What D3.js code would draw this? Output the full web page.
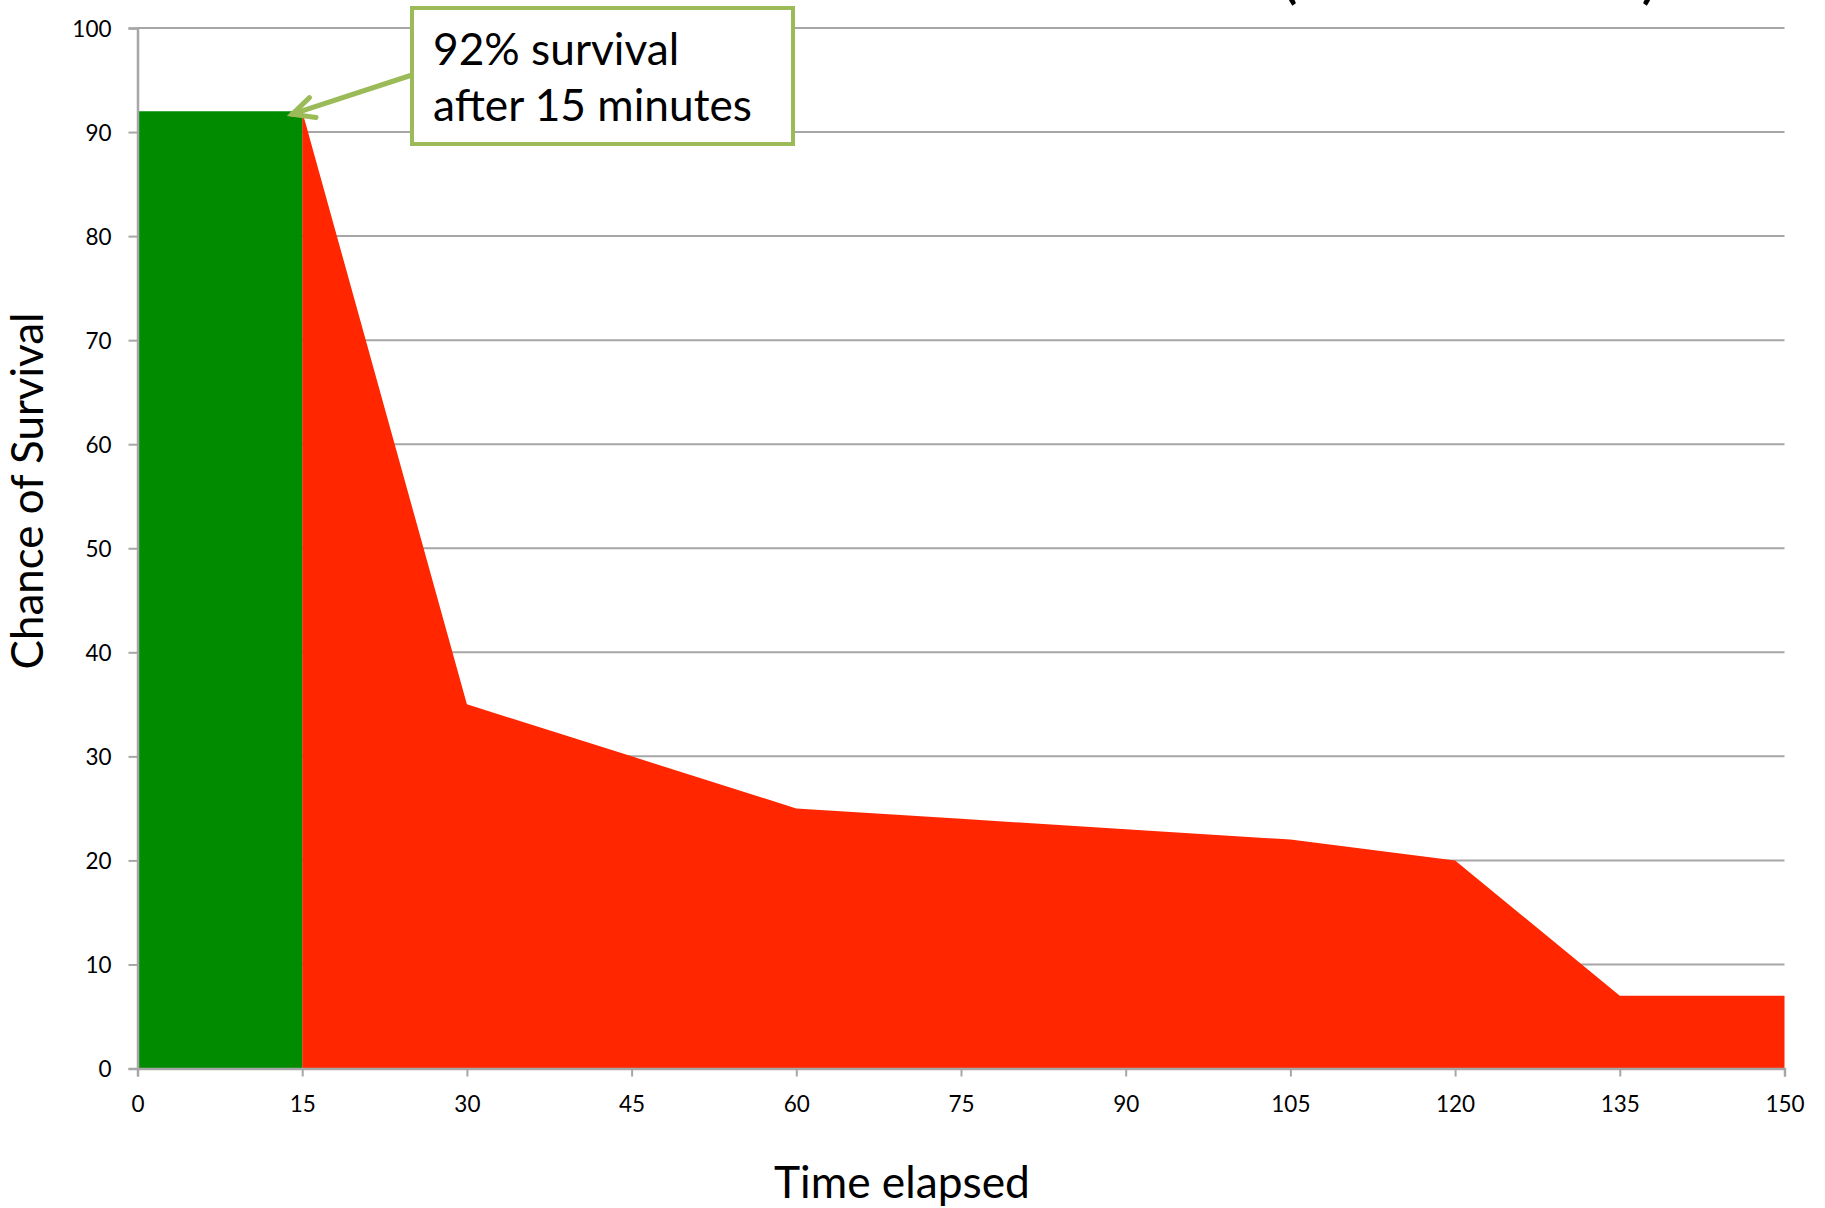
<!DOCTYPE html>
<html>
<head>
<meta charset="utf-8">
<script src="https://cdn.jsdelivr.net/npm/d3@7"></script>
<style>
  html, body { margin: 0; padding: 0; background: #fff; }
  svg { display: block; }
  text { font-family: Lato, "Open Sans", sans-serif; fill: #000; }
</style>
</head>
<body>
<svg id="chart" width="1825" height="1208"></svg>
<script>
// ---- data ----
const minutes  = [0, 15, 30, 45, 60, 75, 90, 105, 120, 135, 150];
const survival = [92, 92, 35, 30, 25, 24, 23, 22, 20, 7, 7];
const greenEnd = 15;             // green region 0..15 minutes
const xTicks = [0, 15, 30, 45, 60, 75, 90, 105, 120, 135, 150];
const yTicks = [0, 10, 20, 30, 40, 50, 60, 70, 80, 90, 100];
const xTitle = "Time elapsed";
const yTitle = "Chance of Survival";
const noteLines = ["92% survival", "after 15 minutes"];
const noteMinute = 15, noteValue = 92;

// ---- layout ----
const W = 1825, H = 1208;
const m = { left: 137.5, right: W - 1784.5, top: 28, bottom: H - 1068.5 };
const svg = d3.select("#chart");

const x = d3.scaleLinear().domain([0, 150]).range([m.left, W - m.right]);
const y = d3.scaleLinear().domain([0, 100]).range([H - m.bottom, m.top]);

const grid = "#A6A6A6";
const green = "#008B00";
const red = "#FF2600";
const noteGreen = "#9BBB59";

function fitText(sel, targetWidth, startSize) {
  sel.attr("font-size", startSize);
  const w = sel.node().getComputedTextLength();
  sel.attr("font-size", startSize * targetWidth / w);
}

// partially visible title (cut off at top in the original as well)
svg.append("text").attr("x", 1289).attr("y", -4).attr("text-anchor", "middle")
  .attr("font-size", 66).text("(");
svg.append("text").attr("x", 1650).attr("y", -4).attr("text-anchor", "middle")
  .attr("font-size", 66).text(")");

// gridlines
svg.append("g").selectAll("line").data(yTicks.filter(d => d > 0)).join("line")
  .attr("x1", x(0)).attr("x2", x(150))
  .attr("y1", d => y(d)).attr("y2", d => y(d))
  .attr("stroke", grid).attr("stroke-width", 2);

// areas
const pts = minutes.map((t, i) => ({ t, v: survival[i] }));
const area = d3.area().x(d => x(d.t)).y0(y(0)).y1(d => y(d.v));
svg.append("path").datum(pts.filter(d => d.t >= greenEnd))
  .attr("d", area).attr("fill", red);
svg.append("path").datum(pts.filter(d => d.t <= greenEnd))
  .attr("d", area).attr("fill", green);

// axes
const yAxis = svg.append("g").attr("transform", `translate(${x(0)},0)`)
  .call(d3.axisLeft(y).tickValues(yTicks).tickSize(9).tickPadding(17));
const xAxis = svg.append("g").attr("transform", `translate(0,${y(0)})`)
  .call(d3.axisBottom(x).tickValues(xTicks).tickSize(8).tickPadding(14));
[yAxis, xAxis].forEach(a => {
  a.select(".domain").attr("stroke", grid).attr("stroke-width", 2.5);
  a.selectAll(".tick line").attr("stroke", grid).attr("stroke-width", 2);
  a.selectAll(".tick text").attr("font-family", "Lato, sans-serif")
    .attr("font-size", 22.5).attr("fill", "#000");
});
yAxis.selectAll(".tick text").attr("dy", "0.36em");
xAxis.selectAll(".tick text").attr("dy", "0.95em");

// axis titles
const xt = svg.append("text").attr("x", 902).attr("y", 1198)
  .attr("text-anchor", "middle").text(xTitle);
fitText(xt, 256, 40);
const yt = svg.append("text")
  .attr("transform", `translate(43,491) rotate(-90)`)
  .attr("text-anchor", "middle").text(yTitle);
fitText(yt, 357, 40);

// annotation
const tipX = x(noteMinute) - 10, tipY = y(noteValue) + 3;
const startX = 412, startY = 75;
const ang = Math.atan2(startY - tipY, startX - tipX);
const L = 24, spread = 0.45;
const arrow = svg.append("g").attr("stroke", noteGreen).attr("stroke-width", 5)
  .attr("stroke-linecap", "round").attr("fill", "none");
arrow.append("line").attr("x1", startX).attr("y1", startY).attr("x2", tipX).attr("y2", tipY);
arrow.append("path").attr("d",
  `M${tipX + L * Math.cos(ang - spread)},${tipY + L * Math.sin(ang - spread)}` +
  `L${tipX},${tipY}` +
  `L${tipX + L * Math.cos(ang + spread)},${tipY + L * Math.sin(ang + spread)}`);

svg.append("rect").attr("x", 412).attr("y", 8).attr("width", 381).attr("height", 136)
  .attr("fill", "#fff").attr("stroke", noteGreen).attr("stroke-width", 4);
const n1 = svg.append("text").attr("x", 433).attr("y", 65).text(noteLines[0]);
const n2 = svg.append("text").attr("x", 433).attr("y", 121).text(noteLines[1]);
fitText(n2, 319, 40);
n1.attr("font-size", n2.attr("font-size"));
</script>
</body>
</html>
